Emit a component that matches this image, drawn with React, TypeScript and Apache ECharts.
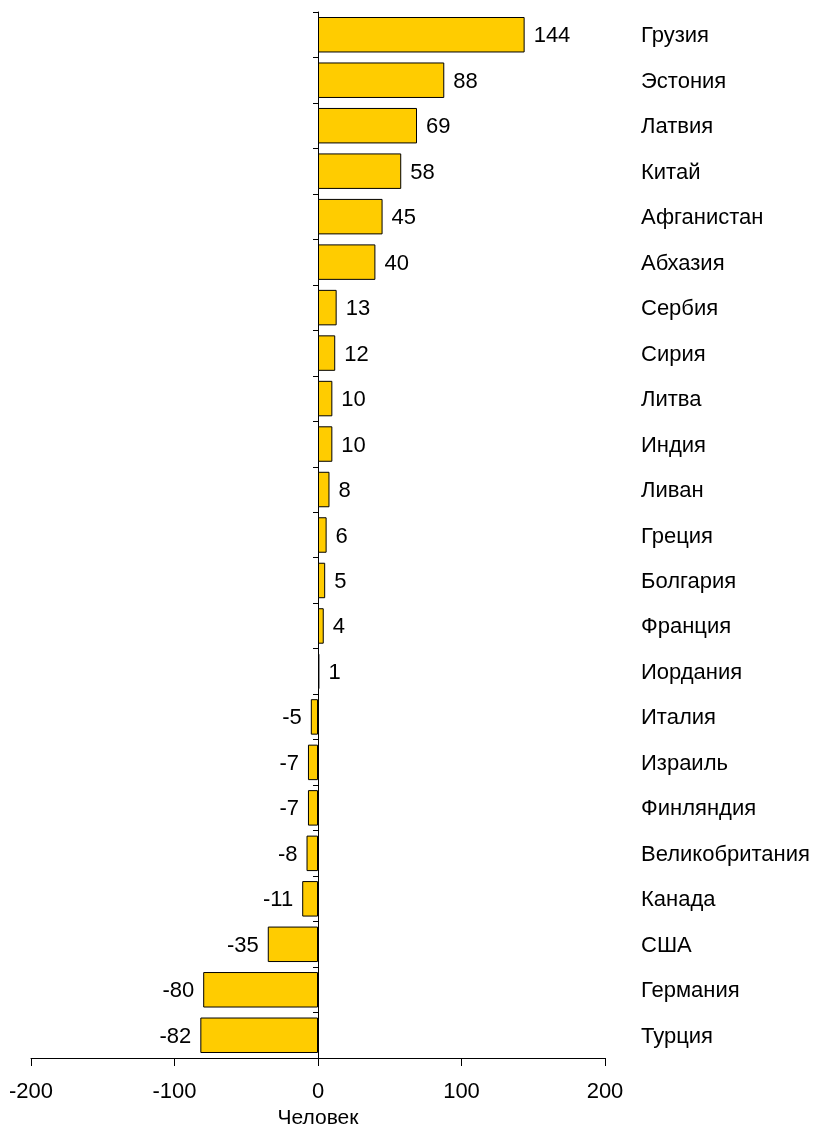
import React, { useEffect, useRef } from "react";
import * as echarts from "echarts";

const categories = [
  "Грузия", "Эстония", "Латвия", "Китай", "Афганистан", "Абхазия", "Сербия", "Сирия",
  "Литва", "Индия", "Ливан", "Греция", "Болгария", "Франция", "Иордания", "Италия",
  "Израиль", "Финляндия", "Великобритания", "Канада", "США", "Германия", "Турция",
];
const values = [144, 88, 69, 58, 45, 40, 13, 12, 10, 10, 8, 6, 5, 4, 1, -5, -7, -7, -8, -11, -35, -80, -82];
const xTicks = [-200, -100, 0, 100, 200];
const axisName = "Человек";

const FONT = "'Liberation Sans', Arial, sans-serif";

export default function App() {
  const ref = useRef<HTMLDivElement>(null);
  useEffect(() => {
    if (!ref.current) return;
    const chart = echarts.init(ref.current, null, { renderer: "svg" });
    chart.setOption({
      animation: false,
      textStyle: { fontFamily: FONT },
      grid: { left: 31, right: 209, top: 12, bottom: 69, containLabel: false },
      xAxis: {
        type: "value",
        min: xTicks[0],
        max: xTicks[xTicks.length - 1],
        interval: 100,
        splitLine: { show: false },
        axisLine: { show: true, lineStyle: { color: "#000", width: 1 } },
        axisTick: { show: true, length: 8, lineStyle: { color: "#000" } },
        axisLabel: { color: "#000", fontSize: 22, fontFamily: FONT, margin: 21 },
        name: axisName,
        nameLocation: "middle",
        nameGap: 48,
        nameTextStyle: { color: "#000", fontSize: 21, fontFamily: FONT },
      },
      yAxis: [
        {
          type: "category",
          data: categories,
          inverse: true,
          axisLine: { show: true, onZero: true, lineStyle: { color: "#000", width: 1 } },
          axisTick: { show: true, length: 5, inside: false, lineStyle: { color: "#000" } },
          axisLabel: { show: false },
        },
        {
          type: "category",
          data: categories,
          inverse: true,
          position: "right",
          axisLine: { show: false },
          axisTick: { show: false },
          axisLabel: { color: "#000", fontSize: 22, fontFamily: FONT, margin: 36, align: "left" },
        },
      ],
      series: [
        {
          type: "bar",
          yAxisIndex: 0,
          data: values.map((v) => ({
            value: v,
            label: { position: v >= 0 ? "right" : "left" },
          })),
          barCategoryGap: "22%",
          itemStyle: { color: "#FFCC00", borderColor: "#000", borderWidth: 1 },
          label: {
            show: true,
            color: "#000",
            fontSize: 22,
            fontFamily: FONT,
            distance: 9,
          },
        },
      ],
    });
    return () => chart.dispose();
  }, []);
  return (
    <div
      ref={ref}
      style={{ position: "fixed", left: 0, top: 0, width: 814, height: 1132 }}
    />
  );
}
